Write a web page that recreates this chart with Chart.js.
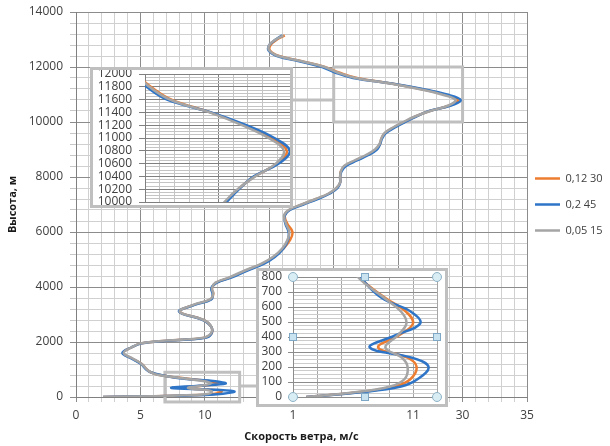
<!DOCTYPE html>
<html>
<head>
<meta charset="utf-8">
<script src="https://cdn.jsdelivr.net/npm/chart.js"></script>
<style>
  html, body { margin: 0; padding: 0; background: #ffffff; }
  #wrap { position: relative; width: 610px; height: 446px; overflow: hidden; }
  canvas { position: absolute; display: block; }
  #main { left: 0; top: 0; }
  #in1 { left: 90px; top: 67px; }
  #in2 { left: 256px; top: 268px; }
</style>
</head>
<body>
<div id="wrap">
  <canvas id="main" width="610" height="446"></canvas>
  <canvas id="in1" width="203" height="141"></canvas>
  <canvas id="in2" width="200" height="157"></canvas>
</div>
<script>
// ---------------- DATA ----------------
const seriesNames = ['0,12 30', '0,2 45', '0,05 15'];

const heights = [0, 30, 70, 120, 200, 260, 330, 410, 490, 570, 660, 800,
  900, 1000, 1200, 1400, 1600, 1800, 1950, 2050, 2150, 2300,
  2550, 2800, 3100, 3350, 3550, 3750, 3950, 4150, 4350, 4600,
  4850, 5100, 5400, 5700, 6000, 6300, 6600, 6800, 7000, 7200,
  7400, 7600, 7800, 8000, 8200, 8400, 8600, 8800, 9000, 9200,
  9400, 9600, 9800, 10000, 10200, 10400, 10600, 10800, 11000, 11200,
  11400, 11600, 11800, 12000, 12200, 12400, 12600, 12800, 13000, 13150];

const speedOrange = [2.1, 6.2, 9.5, 10.8, 11.3, 10.6, 8.1, 9.8, 11.0, 10.4, 8.7, 6.5,
  5.8, 5.5, 5.1, 4.35, 3.65, 4.3, 5.05, 7.1, 9.9, 10.5,
  10.5, 9.9, 8.05, 9.15, 10.45, 10.65, 10.55, 10.85, 12.0, 13.2,
  14.5, 15.4, 16.1, 16.6, 16.8, 16.4, 16.2, 16.55, 17.55, 18.65,
  19.65, 20.25, 20.5, 20.5, 20.55, 20.85, 21.7, 22.6, 23.3, 23.6,
  23.7, 24.0, 24.65, 25.5, 26.35, 27.45, 29.0, 29.65, 28.6, 26.75,
  24.45, 21.8, 20.4, 19.3, 17.6, 15.75, 15.05, 15.1, 15.6, 16.2];

const speedBlue = [2.1, 6.4, 10.0, 11.4, 12.3, 11.0, 7.4, 9.5, 11.6, 10.8, 8.4, 6.6,
  5.8, 5.45, 5.05, 4.3, 3.6, 4.3, 5.1, 7.3, 10.0, 10.5,
  10.5, 9.85, 8.0, 9.2, 10.5, 10.6, 10.5, 10.9, 12.1, 13.3,
  14.6, 15.45, 16.1, 16.45, 16.5, 16.25, 16.2, 16.6, 17.65, 18.75,
  19.7, 20.3, 20.5, 20.5, 20.6, 20.95, 21.8, 22.7, 23.35, 23.6,
  23.75, 24.05, 24.75, 25.55, 26.4, 27.4, 29.1, 29.85, 28.8, 26.9,
  24.5, 21.5, 20.1, 19.1, 17.4, 15.6, 14.95, 15.0, 15.5, 16.0];

const speedGray = [2.1, 6.0, 9.1, 10.3, 10.55, 10.1, 8.7, 9.7, 10.45, 10.0, 8.6, 6.4,
  5.8, 5.5, 5.1, 4.4, 3.7, 4.3, 5.0, 7.0, 9.8, 10.45,
  10.5, 9.9, 8.05, 9.1, 10.4, 10.65, 10.55, 10.8, 11.9, 13.1,
  14.4, 15.3, 16.0, 16.4, 16.55, 16.3, 16.15, 16.5, 17.5, 18.6,
  19.6, 20.2, 20.5, 20.5, 20.55, 20.8, 21.6, 22.5, 23.2, 23.55,
  23.7, 23.95, 24.6, 25.4, 26.3, 27.5, 28.9, 29.45, 28.4, 26.6,
  24.4, 21.7, 20.3, 19.3, 17.6, 15.7, 15.0, 15.0, 15.5, 16.1];

const mainXTickLabels = ['0', '5', '10', '', '', '', '30', '35'];          // values 0,5,...,35
const mainYTickLabels = ['0', '2000', '4000', '6000', '8000', '10000', '12000', '14000'];
const inset1YTickLabels = ['10000', '10200', '10400', '10600', '10800', '11000',
  '11200', '11400', '11600', '11800', '12000'];
const inset2YTickLabels = ['0', '100', '200', '300', '400', '500', '600', '700', '800'];
const inset2XTickLabels = ['1', '', '', '', '', '11', ''];                // values 1,3,...,13

// ---------------- STYLE ----------------
const seriesColors = ['#ED7D31', '#2E75C8', '#A5A5A5'];
const seriesOrder = [2, 1, 0];
const seriesValues = [speedOrange, speedBlue, speedGray];
const frameColor = '#bfbfbf';

Chart.defaults.font.family = "'Open Sans', 'Liberation Sans', sans-serif";
Chart.defaults.color = '#404040';

function buildDatasets() {
  return seriesValues.map((vals, k) => ({
    label: seriesNames[k],
    data: heights.map((h, i) => ({ x: vals[i], y: h })),
    borderColor: seriesColors[k],
    backgroundColor: seriesColors[k],
    borderWidth: 2.5,
    showLine: true,
    pointRadius: 0,
    pointHoverRadius: 0,
    tension: 0.4,
    capBezierPoints: false,
    fill: false,
    order: seriesOrder[k]
  }));
}

function gridColor(majorTest, major, minor) {
  return (c) => (c.tick && majorTest(Math.round(c.tick.value * 1000) / 1000)) ? major : minor;
}

// ---------------- MAIN CHART ----------------
const zoomBoxes = [
  { x0: 20, x1: 30, y0: 10000, y1: 12000, linkY: 10800, side: 'left', inset: 'in1' },
  { x0: 6.9, x1: 12.7, y0: -180, y1: 900, linkY: 400, side: 'right', inset: 'in2' }
];

const mainDecor = {
  id: 'mainDecor',
  afterLayout(chart) {
    if (chart.legend) { chart.legend.left -= 7; chart.legend.right -= 7; }
  },
  beforeDraw(chart) {
    const c = chart.ctx;
    c.save(); c.fillStyle = '#ffffff'; c.fillRect(0, 0, chart.width, chart.height); c.restore();
  },
  beforeDatasetsDraw(chart) {
    const { ctx, scales: { x, y } } = chart;
    ctx.save();
    ctx.strokeStyle = frameColor;
    ctx.lineWidth = 3;
    zoomBoxes.forEach(b => {
      const px0 = x.getPixelForValue(b.x0), px1 = x.getPixelForValue(b.x1);
      const py0 = y.getPixelForValue(b.y0), py1 = y.getPixelForValue(b.y1);
      ctx.strokeRect(px0, py1, px1 - px0, py0 - py1);
      const el = document.getElementById(b.inset);
      const ly = y.getPixelForValue(b.linkY);
      ctx.beginPath();
      if (b.side === 'left') {
        ctx.moveTo(el.offsetLeft + el.width, ly);
        ctx.lineTo(px0, ly);
      } else {
        ctx.moveTo(px1, ly);
        ctx.lineTo(el.offsetLeft, ly);
      }
      ctx.stroke();
    });
    ctx.restore();
  }
};

new Chart(document.getElementById('main'), {
  type: 'scatter',
  data: { datasets: buildDatasets() },
  options: {
    responsive: false, animation: false, devicePixelRatio: 1, events: [],
    layout: { padding: { top: 12, right: 0, bottom: 0, left: 0 } },
    plugins: {
      tooltip: { enabled: false },
      legend: {
        display: true, position: 'right', fullSize: false, align: 'center', maxWidth: 83,
        labels: {
          usePointStyle: true, pointStyle: 'line', pointStyleWidth: 25, padding: 15,
          color: '#404040', font: { size: 11 },
          sort: (a, b) => a.datasetIndex - b.datasetIndex
        }
      }
    },
    scales: {
      x: {
        type: 'linear', position: 'bottom', min: 0, max: 35,
        afterFit: s => { s.height = 49; s.paddingLeft = 0; s.paddingRight = 0; },
        ticks: {
          stepSize: 1, autoSkip: false, maxRotation: 0, padding: 6, color: '#404040', font: { size: 12 },
          callback: v => { const r = Math.round(v); return r % 5 === 0 ? mainXTickLabels[r / 5] : ''; }
        },
        grid: {
          color: gridColor(v => v % 5 === 0, '#8c8c8c', '#d0d0d0'),
          tickColor: gridColor(v => v % 5 === 0, '#8c8c8c', '#d0d0d0'),
          tickLength: 5, lineWidth: 1
        },
        border: { color: '#808080', width: 1 },
        title: {
          display: true, text: 'Скорость ветра, м/с', color: '#1a1a1a',
          font: { size: 11, weight: 'bold' }, padding: { top: 0, bottom: 3 }
        }
      },
      y: {
        type: 'linear', min: 0, max: 14000,
        afterFit: s => { s.width = 76; s.paddingTop = 0; s.paddingBottom = 0; },
        ticks: {
          stepSize: 400, autoSkip: false, padding: 7, color: '#404040', font: { size: 12 },
          callback: v => { const r = Math.round(v); return r % 2000 === 0 ? mainYTickLabels[r / 2000] : ''; }
        },
        grid: {
          color: gridColor(v => v % 2000 === 0, '#8c8c8c', '#d0d0d0'),
          tickColor: gridColor(v => v % 2000 === 0, '#8c8c8c', '#c8c8c8'),
          tickLength: 6, lineWidth: 1
        },
        border: { color: '#808080', width: 1 },
        title: {
          display: true, text: 'Высота, м', color: '#1a1a1a',
          font: { size: 11, weight: 'bold' }, padding: { top: 6, bottom: 0 }
        }
      }
    }
  },
  plugins: [mainDecor]
});

// ---------------- INSET FRAMES ----------------
function framePlugin(fw, fh, handles) {
  return {
    id: 'frame',
    beforeDraw(chart) {
      const c = chart.ctx;
      c.save(); c.fillStyle = '#ffffff'; c.fillRect(0, 0, fw, fh); c.restore();
    },
    afterDraw(chart) {
      const c = chart.ctx;
      c.save();
      c.strokeStyle = frameColor; c.lineWidth = 3;
      c.strokeRect(1.5, 1.5, fw - 3, fh - 3);
      if (handles) {
        const a = chart.chartArea;
        const mx = (a.left + a.right) / 2, my = (a.top + a.bottom) / 2;
        c.lineWidth = 1;
        [[a.left, a.top], [a.right, a.top], [a.left, a.bottom], [a.right, a.bottom]].forEach(([hx, hy]) => {
          c.beginPath(); c.arc(hx, hy, 4.5, 0, Math.PI * 2);
          c.fillStyle = '#d8edf4'; c.fill(); c.strokeStyle = '#8fb3c6'; c.stroke();
        });
        [[mx, a.top], [mx, a.bottom], [a.left, my], [a.right, my]].forEach(([hx, hy]) => {
          c.fillStyle = '#c9e4f0'; c.fillRect(hx - 3.5, hy - 3.5, 7, 7);
          c.strokeStyle = '#7ea8c6'; c.strokeRect(hx - 3.5, hy - 3.5, 7, 7);
        });
      }
      c.restore();
    }
  };
}

// ---------------- INSET 1 (upper zoom) ----------------
new Chart(document.getElementById('in1'), {
  type: 'scatter',
  data: { datasets: buildDatasets() },
  options: {
    responsive: false, animation: false, devicePixelRatio: 1, events: [],
    layout: { padding: { top: 7, right: 1, bottom: 6, left: 0 } },
    plugins: { legend: { display: false }, tooltip: { enabled: false } },
    scales: {
      x: {
        type: 'linear', min: 20, max: 30,
        afterFit: s => { s.height = 0; s.paddingLeft = 0; s.paddingRight = 0; },
        ticks: { display: false, stepSize: 1, autoSkip: false },
        grid: { drawTicks: false, color: gridColor(v => v === 25, '#7f7f7f', '#c4c4c4') },
        border: { color: '#7f7f7f' }
      },
      y: {
        type: 'linear', min: 10000, max: 12000,
        afterFit: s => { s.width = 55; s.paddingTop = 0; s.paddingBottom = 0; },
        ticks: {
          stepSize: 50, autoSkip: false, padding: 7, color: '#404040', font: { size: 12 },
          callback: v => { const r = Math.round(v); return r % 200 === 0 ? inset1YTickLabels[(r - 10000) / 200] : ''; }
        },
        grid: {
          color: gridColor(v => v % 200 === 0, '#808080', '#c4c4c4'),
          tickColor: gridColor(v => v % 200 === 0, '#808080', '#ffffff'),
          tickLength: 6
        },
        border: { color: '#7f7f7f' }
      }
    }
  },
  plugins: [framePlugin(203, 141, false)]
});

// ---------------- INSET 2 (lower zoom) ----------------
new Chart(document.getElementById('in2'), {
  type: 'scatter',
  data: { datasets: buildDatasets() },
  options: {
    responsive: false, animation: false, devicePixelRatio: 1, events: [],
    layout: { padding: { top: 9, right: 19, bottom: 0, left: 0 } },
    plugins: { legend: { display: false }, tooltip: { enabled: false } },
    scales: {
      x: {
        type: 'linear', min: 1, max: 13,
        afterFit: s => { s.height = 28; s.paddingLeft = 0; s.paddingRight = 0; },
        ticks: {
          stepSize: 2, autoSkip: false, maxRotation: 0, padding: 11, color: '#404040', font: { size: 12 },
          callback: v => { const r = Math.round(v); return inset2XTickLabels[(r - 1) / 2] || ''; }
        },
        grid: { drawTicks: false, color: '#a6a6a6' },
        border: { color: '#8c8c8c' }
      },
      y: {
        type: 'linear', min: 0, max: 800,
        afterFit: s => { s.width = 37; s.paddingTop = 0; s.paddingBottom = 0; },
        ticks: {
          stepSize: 25, autoSkip: false, padding: 6, color: '#404040', font: { size: 12 },
          callback: v => { const r = Math.round(v); return r % 100 === 0 ? inset2YTickLabels[r / 100] : ''; }
        },
        grid: {
          color: gridColor(v => v % 100 === 0, '#8c8c8c', '#cccccc'),
          tickColor: gridColor(v => v % 100 === 0, '#8c8c8c', '#ffffff'),
          tickLength: 5
        },
        border: { color: '#8c8c8c' }
      }
    }
  },
  plugins: [framePlugin(192, 139, true)]
});
</script>
</body>
</html>
